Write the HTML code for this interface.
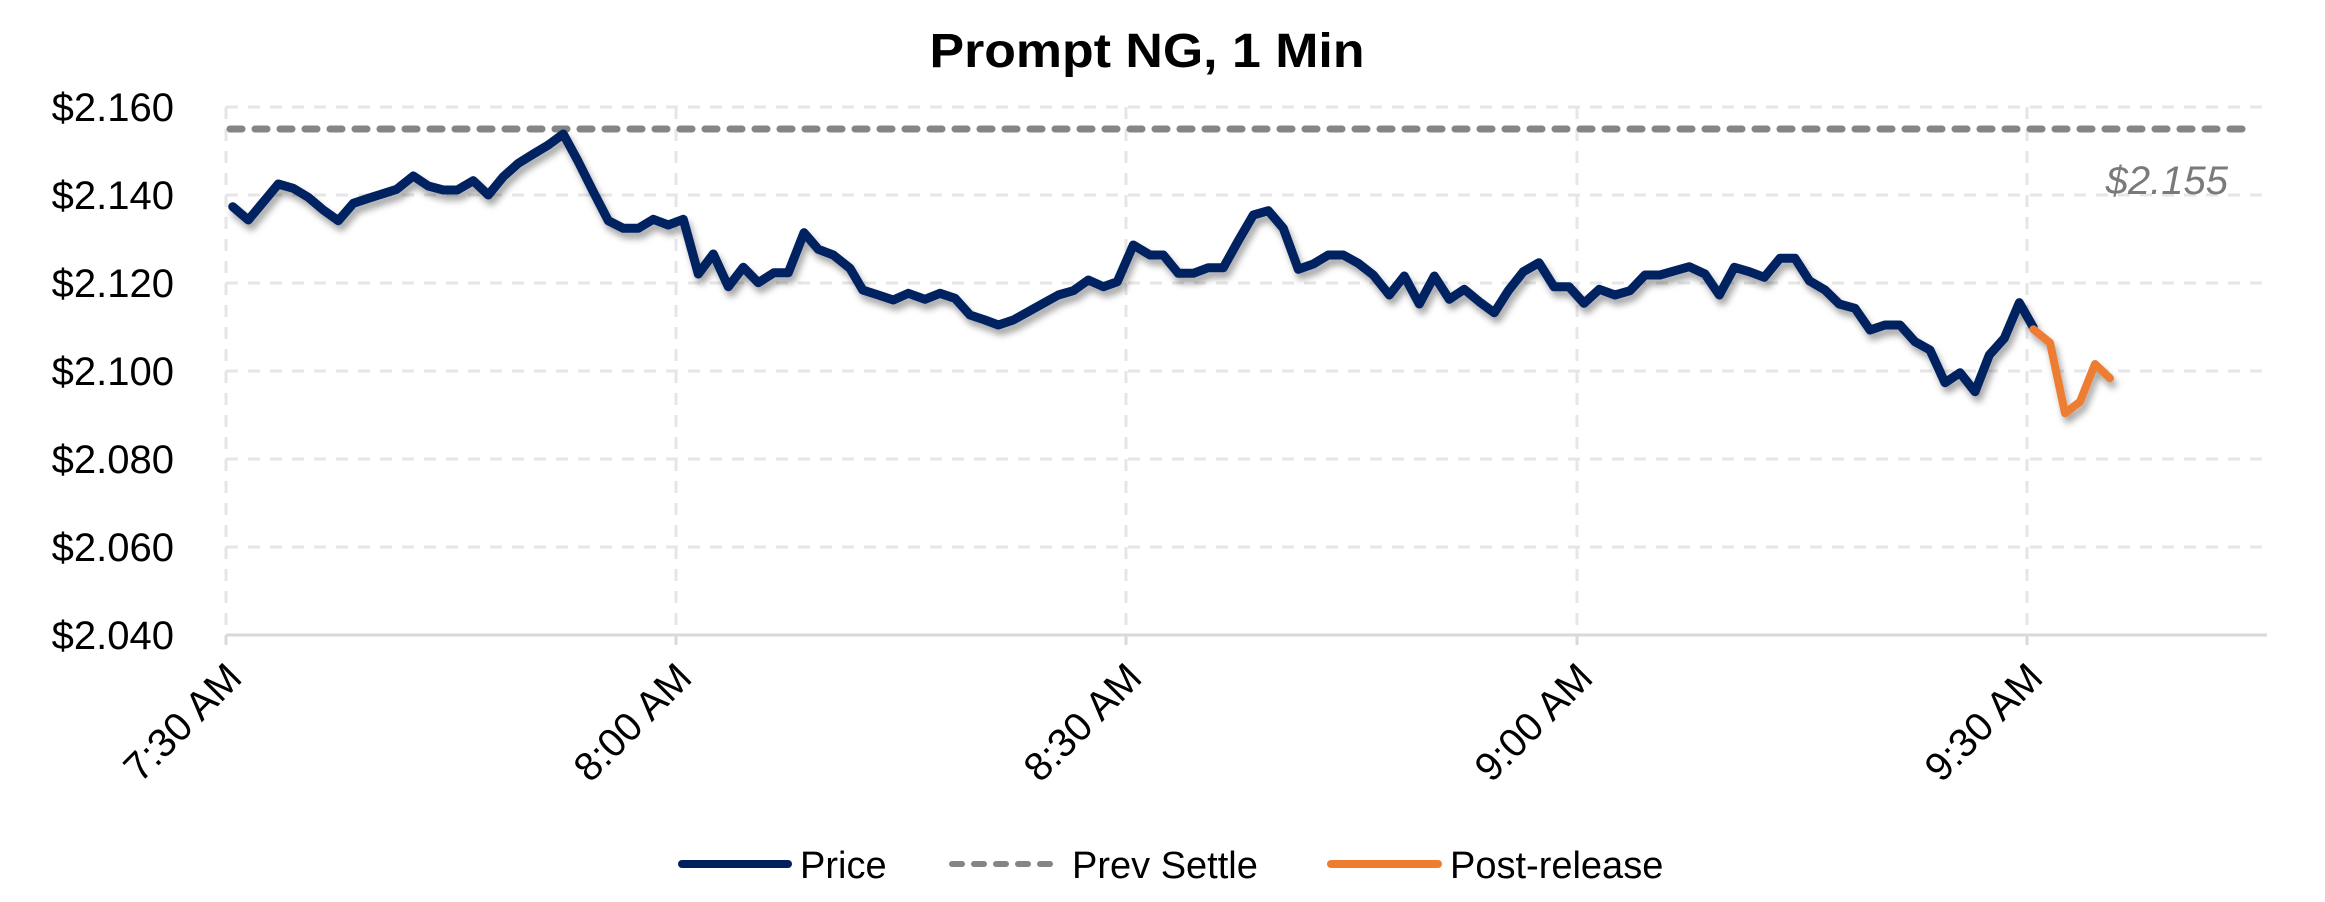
<!DOCTYPE html>
<html><head><meta charset="utf-8"><style>
html,body{margin:0;padding:0;background:#fff;}
svg{display:block;font-family:"Liberation Sans",sans-serif;}
</style></head><body>
<svg width="2325" height="902" viewBox="0 0 2325 902" xmlns="http://www.w3.org/2000/svg">
<defs>
<filter id="sh" x="-5%" y="-20%" width="110%" height="150%">
<feDropShadow dx="3" dy="6" stdDeviation="3.5" flood-color="#000" flood-opacity="0.35"/>
</filter>
</defs>
<rect width="2325" height="902" fill="#fff"/>
<text x="1147" y="67" text-anchor="middle" font-size="48" font-weight="bold" fill="#000" textLength="435" lengthAdjust="spacingAndGlyphs">Prompt NG, 1 Min</text>
<g stroke="#e6e6e6" stroke-width="3" stroke-dasharray="12 10" fill="none">
<line x1="226" y1="107" x2="2267" y2="107"/>
<line x1="226" y1="195" x2="2267" y2="195"/>
<line x1="226" y1="283" x2="2267" y2="283"/>
<line x1="226" y1="371" x2="2267" y2="371"/>
<line x1="226" y1="459" x2="2267" y2="459"/>
<line x1="226" y1="547" x2="2267" y2="547"/>
<line x1="226" y1="107" x2="226" y2="635"/>
<line x1="676" y1="107" x2="676" y2="635"/>
<line x1="1126" y1="107" x2="1126" y2="635"/>
<line x1="1577" y1="107" x2="1577" y2="635"/>
<line x1="2027" y1="107" x2="2027" y2="635"/>
</g>
<g stroke="#d9d9d9" stroke-width="3">
<line x1="226" y1="635" x2="2267" y2="635"/>
<line x1="226" y1="635" x2="226" y2="645"/>
<line x1="676" y1="635" x2="676" y2="645"/>
<line x1="1126" y1="635" x2="1126" y2="645"/>
<line x1="1577" y1="635" x2="1577" y2="645"/>
<line x1="2027" y1="635" x2="2027" y2="645"/>
</g>
<g font-size="40" fill="#000" text-anchor="end">
<text x="174" y="121">$2.160</text>
<text x="174" y="209">$2.140</text>
<text x="174" y="297">$2.120</text>
<text x="174" y="385">$2.100</text>
<text x="174" y="473">$2.080</text>
<text x="174" y="561">$2.060</text>
<text x="174" y="649">$2.040</text>
</g>
<g font-size="40" fill="#000" text-anchor="end">
<text transform="translate(244,680) rotate(-45)">7:30 AM</text>
<text transform="translate(694,680) rotate(-45)">8:00 AM</text>
<text transform="translate(1144,680) rotate(-45)">8:30 AM</text>
<text transform="translate(1595,680) rotate(-45)">9:00 AM</text>
<text transform="translate(2045,680) rotate(-45)">9:30 AM</text>
</g>
<line x1="230" y1="129" x2="2251" y2="129" stroke="#858585" stroke-width="7" stroke-linecap="round" stroke-dasharray="12 13"/>
<text x="2228" y="194" text-anchor="end" font-size="40" font-style="italic" fill="#7a7a7a">$2.155</text>
<g filter="url(#sh)" fill="none" stroke-linejoin="round" stroke-linecap="round">
<polyline stroke="#002060" stroke-width="9" points="232.7,206.7 248.3,220 278.3,184 293.3,188.3 308.3,197.3 323.3,210 338.3,220.7 353.3,203.3 368.3,198.3 396.7,189.3 413.3,176 428.3,186 443.3,190 457.3,190 473.3,180.7 488.3,195 503.3,176.7 518.3,163.3 533.3,154 548.3,145 563.3,134 578.3,161.7 593.3,191.7 608.3,220.7 623.3,228.3 638.3,228.3 653.3,219.3 668.3,225 683.3,219.3 698.3,274 713.3,254 728.3,286.7 743.3,267.3 758.3,282.7 774,272.7 788.3,272.7 804,232.7 818.3,249.3 833.3,255 850,268.3 862.7,290 878.3,295 893.3,300 908.3,293.3 925,299.3 940,293.3 955,298.3 970,315 985,320 998.3,325 1013.3,320 1028.3,311.7 1043.3,303.3 1058.3,295 1073.3,290.7 1088.3,280 1103.3,286.7 1117.3,281.7 1133.3,245 1150,255 1163.3,255 1178.3,273.3 1193.3,273.3 1208.3,267.7 1223.3,267.7 1238.3,240.7 1253.3,215 1268.3,210.7 1283.3,228.3 1298.3,269.3 1313.3,264 1328.3,255 1343.3,255 1358.3,263.3 1373.3,275 1389.3,295 1404.3,276 1419.3,304 1434.3,276 1449.3,299.3 1464.3,289.3 1479.3,301.7 1494.3,312.7 1508.3,290.7 1523.3,271.7 1539,262.7 1554,286.7 1569,286.7 1584,303.3 1599.3,289.3 1615,295 1630,290.7 1645,275 1660,275 1675,270.7 1689.3,266.7 1705,274 1719.3,295 1734.3,267.3 1749.3,271.7 1764.3,277.3 1780,258.3 1795,258.3 1809.3,280.7 1825,290 1839.3,304 1855,308.3 1870,330 1885,325 1900,325 1915,341.7 1930,350 1945,382.7 1960,372.7 1975,391.7 1989.3,355 2004.3,338.3 2019.3,302.7 2033.3,327.3"/>
<polyline stroke="#ed7d31" stroke-width="8" points="2033.3,329.3 2050,342.7 2065,413.3 2080,401.7 2095,364 2110,378.3"/>
</g>
<g font-size="38" fill="#000">
<line x1="682" y1="864" x2="788" y2="864" stroke="#002060" stroke-width="8" stroke-linecap="round"/>
<text x="800" y="878">Price</text>
<line x1="952" y1="864" x2="1060" y2="864" stroke="#858585" stroke-width="6" stroke-linecap="round" stroke-dasharray="10 12"/>
<text x="1072" y="878">Prev Settle</text>
<line x1="1331" y1="864" x2="1438" y2="864" stroke="#ed7d31" stroke-width="8" stroke-linecap="round"/>
<text x="1450" y="878">Post-release</text>
</g>
</svg>
</body></html>
